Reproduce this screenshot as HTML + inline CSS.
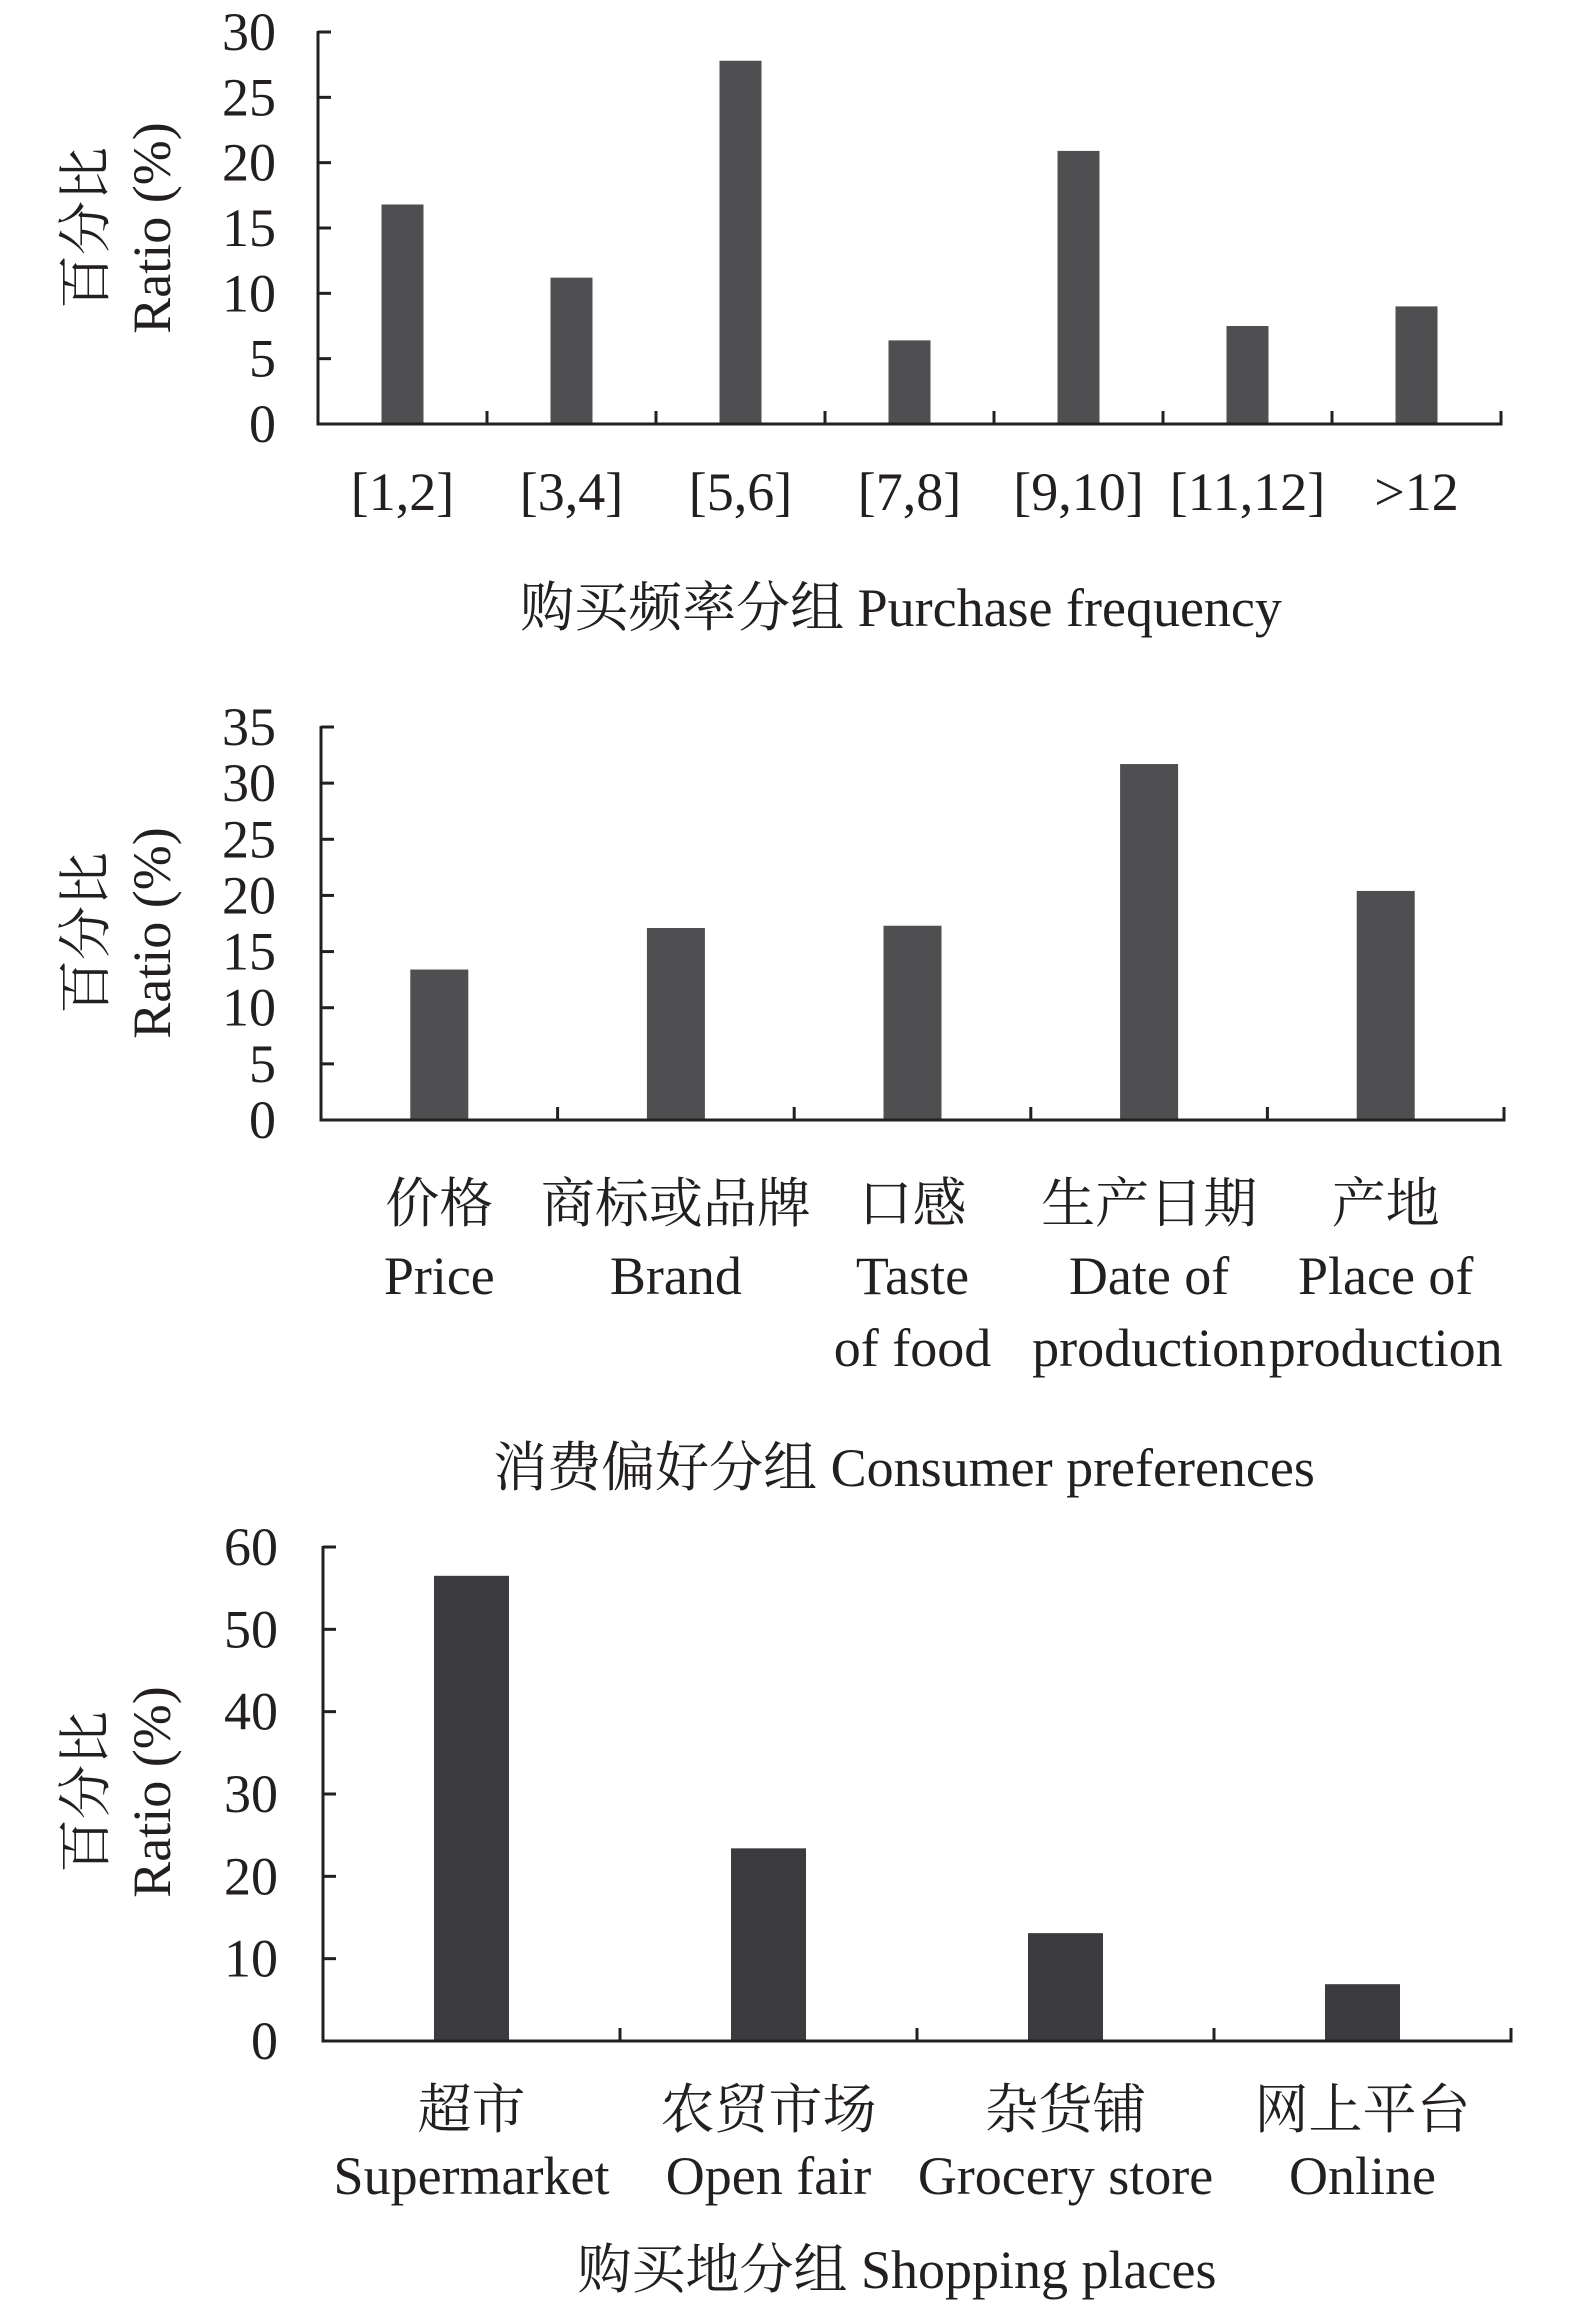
<!DOCTYPE html>
<html><head><meta charset="utf-8"><style>
html,body{margin:0;padding:0;background:#fff;}
svg{display:block;}
text{font-family:"Liberation Serif","Noto Serif CJK SC",serif;fill:#231f20;}
</style></head>
<body>
<svg id="fig" width="1575" height="2304" viewBox="0 0 1575 2304" xmlns="http://www.w3.org/2000/svg"></svg>
<script>
// Chart 1: purchase frequency
const freqCategories = ["[1,2]","[3,4]","[5,6]","[7,8]","[9,10]","[11,12]",">12"];
const freqValues = [16.8, 11.2, 27.8, 6.4, 20.9, 7.5, 9.0];
const freqTicks = [0,5,10,15,20,25,30];
// Chart 2: consumer preferences
const prefCategories = [["价格","Price"],["商标或品牌","Brand"],["口感","Taste","of food"],["生产日期","Date of","production"],["产地","Place of","production"]];
const prefValues = [13.4, 17.1, 17.3, 31.7, 20.4];
const prefTicks = [0,5,10,15,20,25,30,35];
// Chart 3: shopping places
const placeCategories = [["超市","Supermarket"],["农贸市场","Open fair"],["杂货铺","Grocery store"],["网上平台","Online"]];
const placeValues = [56.5, 23.4, 13.1, 6.9];
const placeTicks = [0,10,20,30,40,50,60];

const NS = "http://www.w3.org/2000/svg";
const svg = document.getElementById("fig");
function mk(tag, attrs, parent){
  const e = document.createElementNS(NS, tag);
  for (const k in attrs) e.setAttribute(k, attrs[k]);
  (parent||svg).appendChild(e);
  return e;
}
function drawChart(o){
  const g = mk("g", {});
  
  
  const n = o.cats.length;
  const step = (o.x1 - o.x0)/n;
  const yMax = o.ticks[o.ticks.length-1];
  const yScale = v => o.y0 - (v/yMax)*(o.y0 - o.yTop);
  const xCenter = i => o.x0 + step*(i+0.5);
  // bars
  o.vals.forEach((v,i)=>{
    const r = mk("rect", {x: xCenter(i)-o.bw/2, y: yScale(v), width: o.bw, height: o.y0 - yScale(v), fill: o.color}, g);
    
    
  });
  // y axis
  const ya = mk("line", {x1:o.x0, y1:o.yTop-1, x2:o.x0, y2:o.y0+1.5, stroke:"#231f20", "stroke-width":3}, g);
  
  
  o.ticks.forEach(t=>{
    const y = yScale(t);
    if (t !== 0) mk("line", {x1:o.x0, y1:y, x2:o.x0+13, y2:y, stroke:"#231f20", "stroke-width":3}, g);
    const tl = mk("text", {x:o.tx, y:y+18, "text-anchor":"end", "font-size":54}, g);
    tl.textContent = t;
    
    
  });
  // x axis
  const xa = mk("line", {x1:o.x0-1.5, y1:o.y0, x2:o.x1+1.5, y2:o.y0, stroke:"#231f20", "stroke-width":3}, g);
  
  
  for (let i=1;i<=n;i++){
    const x = o.x0 + step*i;
    mk("line", {x1:x, y1:o.y0, x2:x, y2:o.y0-13, stroke:"#231f20", "stroke-width":3}, g);
  }
  // category labels
  o.cats.forEach((c,i)=>{
    const lines = Array.isArray(c) ? c : [c];
    const t = mk("text", {x:xCenter(i), y:o.labY, "text-anchor":"middle", "font-size":54}, g);
    
    
    lines.forEach((ln,j)=>{
      const ts = mk("tspan", {x:xCenter(i), y:o.labY + j*o.lineH}, t);
      ts.textContent = ln;
    });
  });
  // x title
  const xt = mk("text", {x:o.titleX, y:o.titleY, "text-anchor":"middle", "font-size":54}, g);
  xt.textContent = o.title;
  
  
  // y title
  const yt = mk("text", {transform:`translate(0,${o.yTitleY}) rotate(-90)`, "text-anchor":"middle", "font-size":54}, g);
  
  
  const t1 = mk("tspan", {x:0, y:104}, yt); t1.textContent = "百分比";
  const t2 = mk("tspan", {x:0, y:170}, yt); t2.textContent = "Ratio (%)";
}
drawChart({name:"purchase-frequency-chart", cats:freqCategories, vals:freqValues, ticks:freqTicks,
  x0:318, x1:1501, yTop:32, y0:424, bw:42, color:"#4f4e50", tx:276,
  labY:510, lineH:70, title:"购买频率分组 Purchase frequency", titleX:901, titleY:626, yTitleY:228});
drawChart({name:"consumer-preferences-chart", cats:prefCategories, vals:prefValues, ticks:prefTicks,
  x0:321, x1:1504, yTop:727, y0:1120, bw:58, color:"#4f4e50", tx:276,
  labY:1222, lineH:72, title:"消费偏好分组 Consumer preferences", titleX:904, titleY:1486, yTitleY:933});
drawChart({name:"shopping-places-chart", cats:placeCategories, vals:placeValues, ticks:placeTicks,
  x0:323, x1:1511, yTop:1547, y0:2041, bw:75, color:"#3b3b3f", tx:278,
  labY:2128, lineH:66, title:"购买地分组 Shopping places", titleX:897, titleY:2288, yTitleY:1792});
</script>
</body></html>
